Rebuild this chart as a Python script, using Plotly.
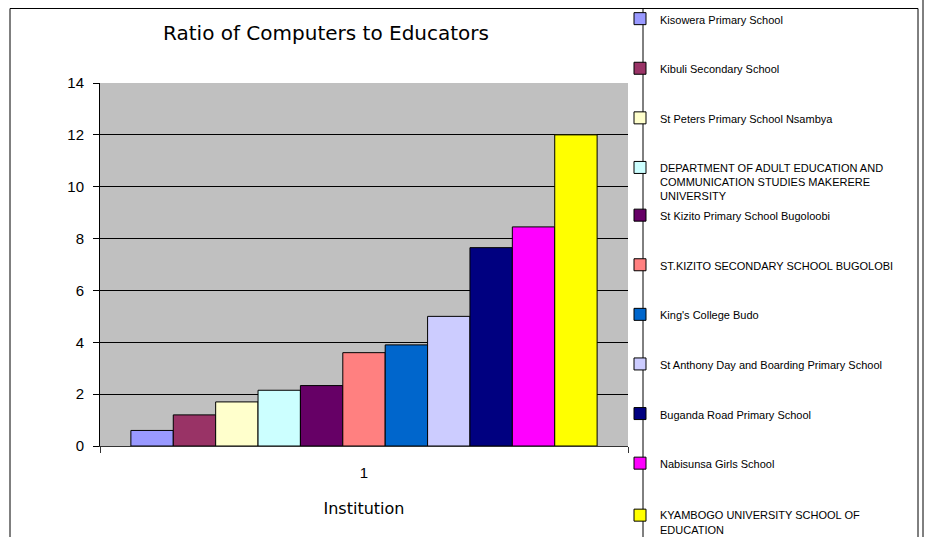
import plotly.graph_objects as go

institutions = [
    "Kisowera Primary School",
    "Kibuli Secondary School",
    "St Peters Primary School Nsambya",
    "DEPARTMENT OF ADULT EDUCATION AND<br>COMMUNICATION STUDIES MAKERERE<br>UNIVERSITY",
    "St Kizito Primary School Bugoloobi",
    "ST.KIZITO SECONDARY SCHOOL BUGOLOBI",
    "King's College Budo",
    "St Anthony Day and Boarding Primary School",
    "Buganda Road Primary School",
    "Nabisunsa Girls School",
    "KYAMBOGO UNIVERSITY SCHOOL OF<br>EDUCATION",
]
ratios = [0.6, 1.2, 1.7, 2.15, 2.33, 3.6, 3.9, 5.0, 7.65, 8.45, 12.0]
colors = ["#9999FF", "#993366", "#FFFFCC", "#CCFFFF", "#660066", "#FF8080",
          "#0066CC", "#CCCCFF", "#000080", "#FF00FF", "#FFFF00"]
category = ["1"]
y_ticks = [0, 2, 4, 6, 8, 10, 12, 14]

W, H = 927, 537
L, R, T, B = 100, 299, 83, 91
PW, PH = W - L - R, H - T - B

def px(x):
    return (x - L) / PW

def py(y):
    return (H - B - y) / PH

def legend_for(i):
    if i < 4:
        return "legend"
    if i < 10:
        return "legend2"
    return "legend3"

fig = go.Figure()
for i, (name, val, col) in enumerate(zip(institutions, ratios, colors)):
    fig.add_trace(go.Bar(
        x=category, y=[val], name=name,
        marker=dict(color=col, line=dict(color="#000000", width=1)),
        legend=legend_for(i),
        legendgroup=f"g{i}",
    ))

legend_font = dict(family="Liberation Sans, Arial, sans-serif", size=11, color="#000000")

shapes = []
line = dict(color="#000000", width=1)
shapes.append(dict(type="line", xref="paper", yref="paper", x0=px(10), x1=px(10), y0=py(8.5), y1=py(545), line=line))
shapes.append(dict(type="line", xref="paper", yref="paper", x0=px(10), x1=px(918), y0=py(8.5), y1=py(8.5), line=line))
shapes.append(dict(type="line", xref="paper", yref="paper", x0=px(643), x1=px(643), y0=py(8.5), y1=py(545), line=line))
shapes.append(dict(type="line", xref="paper", yref="paper", x0=px(918), x1=px(918), y0=py(8.5), y1=py(545), line=line))
shapes.append(dict(type="line", xref="paper", yref="paper", x0=px(923), x1=px(923), y0=py(0), y1=py(545), line=line))

leg_common = dict(xanchor="left", yanchor="top", xref="container", yref="container",
                  bgcolor="rgba(0,0,0,0)", borderwidth=0, font=legend_font,
                  tracegroupgap=30.6, valign="top", itemwidth=30, traceorder="grouped",
                  maxheight=700)

fig.update_layout(
    width=W, height=H,
    margin=dict(l=L, r=R, t=T, b=B, autoexpand=False),
    paper_bgcolor="#FFFFFF",
    plot_bgcolor="#C0C0C0",
    barmode="group",
    bargap=0.117,
    bargroupgap=0,
    title=dict(text="Ratio of Computers to Educators", xref="container", yref="container",
               x=326 / W, y=(H - 33) / H, xanchor="center", yanchor="middle",
               font=dict(family="DejaVu Sans, sans-serif", size=20, color="#000000")),
    font=dict(family="Liberation Sans, Arial, sans-serif", color="#000000"),
    xaxis=dict(type="category", showgrid=False, showline=True, linecolor="#333333", linewidth=1,
               ticks="outside", tickson="boundaries", ticklen=6, tickcolor="#333333",
               ticklabelstandoff=13,
               tickfont=dict(size=15, family="Liberation Sans, Arial, sans-serif"),
               title=dict(text="Institution", standoff=22,
                          font=dict(size=16, family="DejaVu Sans, sans-serif")),
               fixedrange=True),
    yaxis=dict(range=[0, 14], tickvals=y_ticks, showgrid=True, gridcolor="#000000", gridwidth=1,
               showline=True, linecolor="#000000", linewidth=1, ticks="outside", ticklen=6,
               ticklabelstandoff=6,
               tickcolor="#000000", tickfont=dict(size=15, family="Liberation Sans, Arial, sans-serif"),
               zeroline=False, fixedrange=True),
    legend=dict(x=620 / W, y=1 - 5 / H, **leg_common),
    legend2=dict(x=620 / W, y=1 - 201.5 / H, **leg_common),
    legend3=dict(x=620 / W, y=1 - 501.5 / H, **leg_common),
    shapes=shapes,
    showlegend=True,
)

fig.write_html("out.html", config={"displayModeBar": False},
               post_script="document.body.style.margin='0';")
